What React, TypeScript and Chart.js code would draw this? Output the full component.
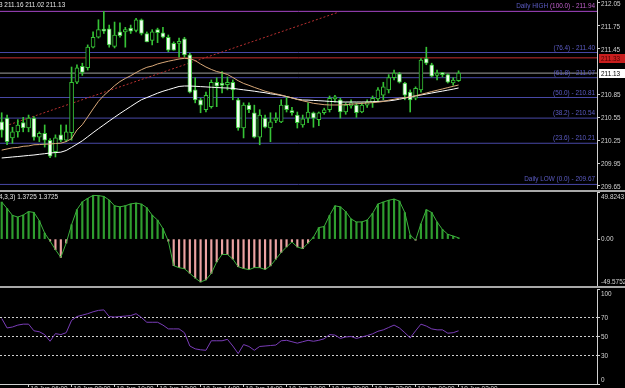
import React, { useEffect, useRef } from "react";
import { Chart, registerables } from "chart.js";

Chart.register(...registerables);

const FONT = '"Liberation Sans", Arial, sans-serif';

// ---------- data ----------
const opens = [210.49, 210.54, 210.28, 210.36, 210.48, 210.41, 210.54, 210.29, 210.34, 210.25, 210.10, 210.32, 210.25, 210.35, 211.01, 211.22, 211.20, 211.47, 211.60, 211.70, 211.71, 211.48, 211.67, 211.67, 211.72, 211.69, 211.83, 211.65, 211.56, 211.70, 211.66, 211.60, 211.52, 211.52, 211.58, 211.37, 210.91, 210.78, 210.65, 210.69, 211.01, 211.00, 210.98, 211.01, 210.78, 210.41, 210.71, 210.61, 210.29, 210.54, 210.41, 210.51, 210.49, 210.71, 210.64, 210.58, 210.45, 210.54, 210.61, 210.52, 210.61, 210.65, 210.79, 210.78, 210.62, 210.70, 210.71, 210.62, 210.71, 210.75, 210.79, 210.84, 210.91, 211.07, 211.12, 211.00, 210.88, 210.80, 210.91, 211.32, 211.24, 211.10, 211.12, 211.11, 211.00, 211.03];
const highs = [210.61, 210.58, 210.42, 210.52, 210.55, 210.58, 210.56, 210.36, 210.45, 210.27, 210.32, 210.45, 210.45, 211.21, 211.24, 211.26, 211.50, 211.67, 211.83, 211.94, 211.76, 211.80, 211.79, 211.73, 211.76, 211.85, 211.84, 211.67, 211.70, 211.72, 211.73, 211.63, 211.54, 211.59, 211.60, 211.39, 211.07, 210.80, 210.88, 211.04, 211.07, 211.15, 211.08, 211.04, 210.80, 210.74, 210.74, 210.71, 210.65, 210.58, 210.61, 210.61, 210.78, 210.82, 210.68, 210.62, 210.58, 210.74, 210.62, 210.62, 210.67, 210.83, 210.84, 210.80, 210.74, 210.78, 210.74, 210.74, 210.78, 210.83, 210.94, 211.01, 211.11, 211.17, 211.14, 211.01, 210.91, 210.95, 211.32, 211.47, 211.26, 211.17, 211.14, 211.12, 211.07, 211.16];
const lows = [210.29, 210.19, 210.21, 210.29, 210.36, 210.36, 210.25, 210.23, 210.16, 210.02, 210.03, 210.23, 210.23, 210.25, 210.99, 211.10, 211.17, 211.46, 211.59, 211.65, 211.47, 211.46, 211.60, 211.47, 211.65, 211.67, 211.63, 211.54, 211.50, 211.53, 211.59, 211.41, 211.43, 211.34, 211.34, 210.87, 210.74, 210.61, 210.62, 210.67, 210.69, 210.87, 210.91, 210.78, 210.38, 210.28, 210.61, 210.28, 210.19, 210.41, 210.23, 210.48, 210.48, 210.62, 210.58, 210.41, 210.42, 210.48, 210.42, 210.44, 210.59, 210.62, 210.75, 210.54, 210.59, 210.67, 210.55, 210.61, 210.68, 210.68, 210.76, 210.78, 210.87, 211.04, 211.00, 210.78, 210.62, 210.78, 210.88, 211.24, 211.08, 211.04, 211.08, 211.00, 210.97, 211.02];
const closes = [210.38, 210.23, 210.36, 210.45, 210.41, 210.54, 210.29, 210.34, 210.25, 210.04, 210.28, 210.25, 210.36, 211.01, 211.20, 211.14, 211.47, 211.60, 211.70, 211.68, 211.50, 211.63, 211.62, 211.70, 211.68, 211.83, 211.65, 211.54, 211.67, 211.66, 211.60, 211.43, 211.43, 211.54, 211.37, 210.88, 210.78, 210.71, 210.84, 211.01, 210.96, 210.97, 211.01, 210.91, 210.41, 210.71, 210.65, 210.29, 210.58, 210.42, 210.49, 210.54, 210.71, 210.65, 210.61, 210.48, 210.53, 210.62, 210.54, 210.61, 210.65, 210.80, 210.82, 210.62, 210.71, 210.74, 210.61, 210.71, 210.75, 210.80, 210.91, 210.95, 211.07, 211.13, 211.01, 210.84, 210.78, 210.93, 211.30, 211.26, 211.09, 211.13, 211.11, 211.01, 211.04, 211.13];

const maFast = [210.12, 210.135, 210.15, 210.155, 210.17, 210.175, 210.19, 210.193, 210.197, 210.20, 210.207, 210.211, 210.232, 210.27, 210.384, 210.453, 210.555, 210.66, 210.76, 210.837, 210.90, 210.965, 211.019, 211.06, 211.096, 211.137, 211.175, 211.206, 211.223, 211.25, 211.269, 211.286, 211.30, 211.315, 211.324, 211.319, 211.295, 211.25, 211.21, 211.178, 211.151, 211.134, 211.112, 211.073, 211.03, 210.995, 210.97, 210.943, 210.918, 210.893, 210.875, 210.858, 210.843, 210.823, 210.804, 210.784, 210.767, 210.751, 210.734, 210.725, 210.716, 210.712, 210.712, 210.712, 210.717, 210.722, 210.728, 210.733, 210.738, 210.743, 210.749, 210.758, 210.775, 210.787, 210.801, 210.809, 210.817, 210.834, 210.851, 210.869, 210.888, 210.905, 210.922, 210.94, 210.957, 210.974];
const maSlow = [210.017, 210.023, 210.03, 210.036, 210.043, 210.05, 210.056, 210.065, 210.073, 210.082, 210.088, 210.093, 210.115, 210.156, 210.198, 210.242, 210.295, 210.349, 210.401, 210.451, 210.502, 210.551, 210.60, 210.646, 210.692, 210.738, 210.781, 210.809, 210.838, 210.867, 210.892, 210.913, 210.934, 210.955, 210.961, 210.961, 210.957, 210.953, 210.949, 210.945, 210.941, 210.937, 210.934, 210.93, 210.92, 210.911, 210.902, 210.893, 210.882, 210.873, 210.859, 210.85, 210.837, 210.823, 210.805, 210.788, 210.777, 210.776, 210.772, 210.768, 210.764, 210.759, 210.755, 210.751, 210.751, 210.751, 210.751, 210.751, 210.752, 210.755, 210.758, 210.762, 210.766, 210.775, 210.788, 210.802, 210.817, 210.83, 210.843, 210.856, 210.869, 210.882, 210.894, 210.907, 210.92, 210.935];

const oscValues = [39.2, 32.4, 25.1, 23.3, 25.4, 29.1, 28.2, 19.4, 6.3, -2.1, -11.2, -19.3, -4.2, 15.3, 31.2, 39.4, 43.1, 46.2, 46.0, 45.1, 41.3, 35.2, 34.1, 35.3, 37.2, 38.1, 37.0, 33.2, 25.3, 20.1, 11.2, -2.2, -28.1, -30.2, -31.3, -36.1, -41.2, -45.3, -43.1, -36.2, -24.1, -16.2, -16.3, -21.1, -29.2, -31.1, -32.3, -30.1, -30.2, -32.1, -28.3, -21.2, -14.1, -8.2, -3.1, -8.3, -10.1, -4.2, 2.1, 12.2, 13.3, 25.1, 35.2, 34.1, 29.2, 21.3, 18.1, 18.2, 20.1, 27.2, 37.1, 39.2, 41.1, 42.3, 40.2, 28.1, 4.2, -1.1, 16.2, 31.1, 28.2, 18.1, 10.2, 5.1, 3.2, 1.3725];
const rsiValues = [69, 59, 60, 62, 63, 63, 56, 55, 52, 45, 53, 52, 54, 67, 71, 72.5, 74, 76, 77.5, 78, 71, 70.5, 71, 71.5, 72, 74, 70, 65, 65, 65, 62, 58, 58, 58, 54, 40, 37, 36, 35.5, 45.5, 45.5, 45.5, 47, 40, 32, 41.5, 39.5, 35.5, 39.5, 40, 40.5, 41, 45.5, 46, 44.5, 43, 44.5, 46, 45, 46, 47.6, 52, 51.5, 48, 49.5, 50, 48, 49.5, 51, 52.8, 55.5, 57, 59.5, 62, 59, 54, 48.5, 56, 63, 61, 58, 57, 57, 53.5, 54, 56];

const priceTicks = [212.05, 211.75, 211.45, 210.85, 210.55, 210.25, 209.95, 209.65];
const fibNames = ["Daily HIGH", "", "", "", "", "", "Daily LOW"];
const fibPercents = ["(100.0)", "(76.4)", "(61.8)", "(50.0)", "(38.2)", "(23.6)", "(0.0)"];
const fibValues = [211.94, 211.40, 211.07, 210.81, 210.54, 210.21, 209.67];
const trendIdx = [0, 62.7];
const trendVals = [210.42, 211.93];
const bidPrice = 211.13;
const alertPrice = 211.33;
const headerValues = ["211.03", "211.16", "211.02", "211.13"];

const oscTitle = "4,3,3) 1.3725 1.3725";
const oscTickValues = [49.8243, 0, -49.5752];
const oscTickLabels = ["49.8243", "0.00", "-49.5752"];
const rsiTickValues = [100, 70, 50, 30, 0];
const rsiLevels = [70, 50, 30];

const timeTickIdx = [5, 13, 21, 29, 37, 45, 53, 61, 69, 77, 85];
const timeLabels = ["18 Jun 06:00", "18 Jun 08:00", "18 Jun 10:00", "18 Jun 12:00", "18 Jun 14:00", "18 Jun 16:00", "18 Jun 18:00", "18 Jun 20:00", "18 Jun 22:00", "19 Jun 00:00", "19 Jun 02:00"];

// ---------- styling ----------
const X_MIN = -0.316;
const X_MAX = 110.754;
const AXIS = "#cfcfcf";
const AXIS_TEXT = "#d4d4d4";
const CANDLE = "#36c236";
const FIB_LINE = "#4848a6";
const FIB_TEXT = "#5c5cc4";
const HIGH_LINE = "#a646c6";
const HIGH_TEXT = "#c060cc";
const SEP = "#a8a8a8";
const SQUEEZE = 0.8;

const idx = closes.map((_, i) => i);

// condensed text helper (MT4-like narrow font)
const ctext = (ctx: CanvasRenderingContext2D, text: string, x: number, y: number, align: CanvasTextAlign, base: CanvasTextBaseline) => {
  ctx.save();
  ctx.translate(x, y);
  ctx.scale(SQUEEZE, 1);
  ctx.textAlign = align;
  ctx.textBaseline = base;
  ctx.fillText(text, 0, 0);
  ctx.restore();
};
const cwidth = (ctx: CanvasRenderingContext2D, text: string) => ctx.measureText(text).width * SQUEEZE;

const fixY = (w: number) => (s: any) => {
  s.width = w;
  s.paddingTop = 0;
  s.paddingBottom = 0;
};

const hLine = (v: number, color: string, order = 10, dash: number[] = []) => ({
  type: "line" as const,
  data: [
    { x: X_MIN, y: v },
    { x: X_MAX, y: v },
  ],
  borderColor: color,
  borderWidth: 1,
  borderDash: dash,
  pointRadius: 0,
  order,
});

const baseOpts = {
  animation: false as const,
  responsive: false,
  devicePixelRatio: 1,
  events: [] as any[],
  plugins: { legend: { display: false }, tooltip: { enabled: false } },
};

const mainOverlay = {
  id: "mainOverlay",
  afterDraw(chart: any) {
    const { ctx, chartArea } = chart;
    const y = chart.scales.y;
    ctx.save();
    ctx.font = `8px ${FONT}`;
    // price scale labels
    ctx.fillStyle = AXIS_TEXT;
    priceTicks.forEach((v) => {
      ctext(ctx, v.toFixed(2), chartArea.right + 4, Math.round(y.getPixelForValue(v)) + 0.5, "left", "middle");
    });
    // fibo labels
    fibValues.forEach((v, k) => {
      const py = Math.round(y.getPixelForValue(v));
      const right = chartArea.right - 2;
      const tail = `${fibPercents[k]} - ${v.toFixed(2)}`;
      ctx.fillStyle = k === 0 ? HIGH_TEXT : FIB_TEXT;
      ctext(ctx, tail, right, py - 1, "right", "bottom");
      if (fibNames[k]) {
        const w = cwidth(ctx, tail);
        ctx.fillStyle = FIB_TEXT;
        ctext(ctx, fibNames[k] + " ", right - w, py - 1, "right", "bottom");
      }
    });
    const box = (v: number, bg: string, fg: string) => {
      const py = Math.round(y.getPixelForValue(v));
      ctx.fillStyle = bg;
      ctx.fillRect(chartArea.right + 2, py - 4, 26, 9);
      ctx.fillStyle = fg;
      ctext(ctx, v.toFixed(2), chartArea.right + 4, py + 0.5, "left", "middle");
    };
    box(alertPrice, "#c81e1e", "#4a0000");
    box(bidPrice, "#ffffff", "#000000");
    ctx.fillStyle = "#e6e6e6";
    const cut = cwidth(ctx, headerValues[0].slice(0, -1));
    ctext(ctx, headerValues.join(" "), -cut - 1, 1, "left", "top");
    ctx.restore();
  },
};

const sideLabels = (chart: any, values: number[], labels: string[]) => {
  const { ctx, chartArea } = chart;
  const y = chart.scales.y;
  ctx.font = `8px ${FONT}`;
  ctx.fillStyle = AXIS_TEXT;
  values.forEach((v, k) => {
    const py = y.getPixelForValue(v);
    if (k === 0) ctext(ctx, labels[k], chartArea.right + 4, py + 1, "left", "top");
    else if (k === values.length - 1) ctext(ctx, labels[k], chartArea.right + 4, py, "left", "bottom");
    else ctext(ctx, labels[k], chartArea.right + 4, py, "left", "middle");
  });
};

const oscOverlay = {
  id: "oscOverlay",
  afterDraw(chart: any) {
    const { ctx, chartArea } = chart;
    ctx.save();
    ctx.fillStyle = SEP;
    ctx.fillRect(0, 1, chart.width, 2);
    ctx.fillRect(0, chart.height - 2, chart.width, 2);
    sideLabels(chart, oscTickValues, oscTickLabels);
    ctx.fillStyle = "#e6e6e6";
    ctext(ctx, oscTitle, -1, chartArea.top + 1, "left", "top");
    ctx.restore();
  },
};

const rsiOverlay = {
  id: "rsiOverlay",
  afterDraw(chart: any) {
    const { ctx, chartArea } = chart;
    const x = chart.scales.x;
    ctx.save();
    sideLabels(chart, rsiTickValues, rsiTickValues.map(String));
    ctx.fillStyle = AXIS_TEXT;
    timeTickIdx.forEach((t, k) => {
      ctext(ctx, timeLabels[k], x.getPixelForValue(t) + 2, chartArea.bottom + 1, "left", "top");
    });
    ctx.restore();
  },
};

export default function App() {
  const aRef = useRef<HTMLCanvasElement>(null);
  const bRef = useRef<HTMLCanvasElement>(null);
  const cRef = useRef<HTMLCanvasElement>(null);

  useEffect(() => {
    Chart.defaults.font.family = FONT;
    const charts: Chart[] = [];

    const yAxisCommon = {
      position: "right" as const,
      grid: { drawOnChartArea: false, drawTicks: true, tickLength: 3, color: AXIS },
      border: { display: true, color: AXIS },
      ticks: { display: false },
    };
    const xHidden = { type: "linear" as const, min: X_MIN, max: X_MAX, display: false, offset: false, grid: { offset: false } };

    // ---- main price pane ----
    charts.push(
      new Chart(aRef.current!, {
        type: "bar",
        data: {
          datasets: [
            hLine(fibValues[0], HIGH_LINE),
            ...fibValues.slice(1).map((v) => hLine(v, FIB_LINE)),
            hLine(alertPrice, "#c83030"),
            hLine(bidPrice, "#a0a0a0"),
            {
              type: "line",
              data: trendIdx.map((x, k) => ({ x, y: trendVals[k] })),
              borderColor: "#b83030",
              borderWidth: 1,
              borderDash: [2, 2],
              pointRadius: 0,
              order: 9,
            },
            {
              type: "bar",
              data: idx.map((i) => ({ x: i, y: [lows[i], highs[i]] })),
              backgroundColor: CANDLE,
              barThickness: 1,
              grouped: false,
              order: 3,
            },
            {
              type: "bar",
              data: idx.map((i) => ({ x: i, y: [opens[i], closes[i]] })),
              backgroundColor: idx.map((i) => (closes[i] >= opens[i] ? "#000000" : "#f2fff2")),
              borderColor: CANDLE,
              borderWidth: 1,
              borderSkipped: false,
              barThickness: 4,
              minBarLength: 2,
              grouped: false,
              order: 2,
            },
            {
              type: "line",
              data: idx.map((i) => ({ x: i, y: maFast[i] })),
              borderColor: "#d8a878",
              borderWidth: 1,
              pointRadius: 0,
              order: 1,
            },
            {
              type: "line",
              data: idx.map((i) => ({ x: i, y: maSlow[i] })),
              borderColor: "#ffffff",
              borderWidth: 1,
              pointRadius: 0,
              order: 1,
            },
          ] as any,
        },
        options: {
          ...baseOpts,
          layout: { padding: 0 },
          scales: {
            x: xHidden,
            y: {
              ...yAxisCommon,
              min: 209.61,
              max: 212.089,
              afterFit: fixY(28),
              afterBuildTicks: (s: any) => {
                s.ticks = priceTicks.map((v) => ({ value: v }));
              },
            },
          },
        } as any,
        plugins: [mainOverlay],
      })
    );

    // ---- oscillator pane ----
    charts.push(
      new Chart(bRef.current!, {
        type: "bar",
        data: {
          datasets: [
            {
              type: "bar",
              data: idx.map((i) => ({ x: i, y: oscValues[i] })),
              backgroundColor: oscValues.map((v) => (v >= 0 ? "#2f9e2f" : "#eba2a2")),
              barThickness: 1.5,
              grouped: false,
              order: 2,
            },
            {
              type: "line",
              data: idx.map((i) => ({ x: i, y: oscValues[i] })),
              borderColor: "#3cb03c",
              borderWidth: 1,
              pointRadius: 0,
              order: 1,
            },
          ] as any,
        },
        options: {
          ...baseOpts,
          layout: { padding: { top: 3, bottom: 2, left: 0, right: 0 } },
          scales: {
            x: xHidden,
            y: {
              ...yAxisCommon,
              min: oscTickValues[2],
              max: oscTickValues[0],
              afterFit: fixY(28),
              afterBuildTicks: (s: any) => {
                s.ticks = oscTickValues.map((v) => ({ value: v }));
              },
            },
          },
        } as any,
        plugins: [oscOverlay],
      })
    );

    // ---- RSI pane ----
    charts.push(
      new Chart(cRef.current!, {
        type: "line",
        data: {
          datasets: [
            ...rsiLevels.map((v) => hLine(v, "#cfcfcf", 5, [2, 2])),
            {
              type: "line",
              data: idx.map((i) => ({ x: i, y: rsiValues[i] })),
              borderColor: "#7a3db8",
              borderWidth: 1,
              pointRadius: 0,
              order: 1,
            },
          ] as any,
        },
        options: {
          ...baseOpts,
          layout: { padding: { top: 1, bottom: 0, left: 0, right: 0 } },
          scales: {
            x: {
              type: "linear",
              min: X_MIN,
              max: X_MAX,
              offset: false,
              position: "bottom",
              afterFit: (s: any) => {
                s.height = 4;
                s.paddingLeft = 0;
                s.paddingRight = 0;
              },
              afterBuildTicks: (s: any) => {
                s.ticks = timeTickIdx.map((v) => ({ value: v }));
              },
              grid: { drawOnChartArea: false, drawTicks: true, tickLength: 3, color: AXIS },
              border: { display: true, color: AXIS },
              ticks: { display: false },
            },
            y: {
              ...yAxisCommon,
              min: 0,
              max: 100,
              afterFit: fixY(28),
              afterBuildTicks: (s: any) => {
                s.ticks = rsiTickValues.map((v) => ({ value: v }));
              },
            },
          },
        } as any,
        plugins: [rsiOverlay],
      })
    );

    return () => charts.forEach((c) => c.destroy());
  }, []);

  return (
    <div style={{ position: "fixed", left: 0, top: 0, width: 625, height: 388, background: "#000", overflow: "hidden" }}>
      <canvas ref={aRef} width={625} height={189} style={{ position: "absolute", left: 0, top: 0, width: 625, height: 189 }} />
      <canvas ref={bRef} width={625} height={99} style={{ position: "absolute", left: 0, top: 189, width: 625, height: 99 }} />
      <canvas ref={cRef} width={625} height={100} style={{ position: "absolute", left: 0, top: 288, width: 625, height: 100 }} />
    </div>
  );
}
